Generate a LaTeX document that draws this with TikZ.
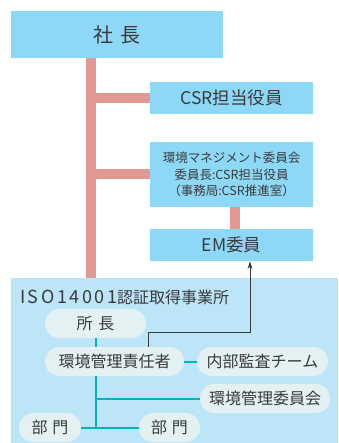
\documentclass[tikz,border=0pt]{standalone}
\usepackage{fontspec}
\setmainfont{Noto Sans CJK JP}
\usetikzlibrary{arrows.meta}
\definecolor{boxblue}{HTML}{8ED8F7}
\definecolor{siteblue}{HTML}{BDE5F8}
\definecolor{pillgray}{HTML}{E3F1F3}
\definecolor{linkpink}{HTML}{E09A93}
\definecolor{linkteal}{HTML}{00B3C3}
\definecolor{textgray}{HTML}{3A3A3A}
\tikzset{
  orgbox/.style={fill=boxblue, minimum width=163pt, minimum height=32pt, inner sep=0pt,
    text=textgray, font=\fontsize{17.5}{19}\selectfont},
  pill/.style={fill=pillgray, rounded corners=14.5pt, minimum height=29pt, inner sep=0pt,
    text=textgray, font=\fontsize{16}{18}\selectfont},
  pinklink/.style={draw=linkpink, line width=10pt},
  teallink/.style={draw=linkteal, line width=2pt},
  flowarrow/.style={draw=textgray, line width=0.9pt, -{Stealth[length=8pt,width=5pt]}}
}
\begin{document}
\begin{tikzpicture}[x=1pt, y=-1pt]
  \useasboundingbox (0,0) rectangle (338,443);
  % upper organisation
  \node[orgbox, minimum width=212pt, minimum height=47pt, font=\fontsize{20}{22}\selectfont] (shacho) at (117,34.5) {社\hspace{0.35em}長};
  \node[orgbox] (csr) at (231.5,98) {CSR担当役員};
  \node[orgbox, minimum height=65pt, align=center, font=\fontsize{12.5}{16.5}\selectfont] (comm) at (231.5,174.5)
    {環境マネジメント委員会\\委員長:CSR担当役員\\（事務局:CSR推進室）};
  \node[orgbox] (em) at (231.5,245) {EM委員};
  % certified site
  \node[fill=siteblue, minimum width=327pt, minimum height=165pt, inner sep=0pt] (site) at (174.5,360.5) {};
  \node[anchor=west, inner sep=0pt, text=textgray, font=\fontsize{16}{18}\selectfont] (title) at (20,297)
    {{\fontsize{18}{20}\selectfont\addfontfeature{LetterSpace=14}ISO14001}認証取得事業所};
  \node[pill, minimum width=101pt] (shocho) at (95.5,323.5) {所\hspace{0.35em}長};
  \node[pill, minimum width=139pt] (sekinin) at (114.5,361.5) {環境管理責任者};
  \node[pill, minimum width=131pt] (kansa) at (262.5,361.5) {内部監査チーム};
  \node[pill, minimum width=130pt] (iinkai) at (265,398.5) {環境管理委員会};
  \node[pill, minimum width=62pt] (bumonL) at (50,427.5) {部\hspace{0.3em}門};
  \node[pill, minimum width=61pt] (bumonR) at (169.5,427.5) {部\hspace{0.3em}門};
  % pink links
  \coordinate (spine) at (91,58);
  \draw[pinklink] (spine) -- (spine |- site.north);
  \draw[pinklink] (spine |- csr.west) -- (csr.west);
  \draw[pinklink] (spine |- comm.west) -- (comm.west);
  \draw[pinklink] ([xshift=3.5pt]comm.south) -- ([xshift=3.5pt]em.north);
  % teal links
  \coordinate (trunk) at (shocho.south);
  \draw[teallink] (trunk) -- (trunk |- sekinin.north);
  \draw[teallink] (trunk |- sekinin.south) -- (trunk |- bumonL.east);
  \draw[teallink] (trunk |- iinkai.west) -- (iinkai.west);
  \draw[teallink] (bumonL.east) -- (bumonR.west);
  \draw[teallink] (sekinin.east) -- (kansa.west);
  % report to EM
  \coordinate (bend) at (250,332);
  \draw[flowarrow] ([xshift=33.5pt]sekinin.north) |- (bend) -- (bend |- em.south);
\end{tikzpicture}
\end{document}
